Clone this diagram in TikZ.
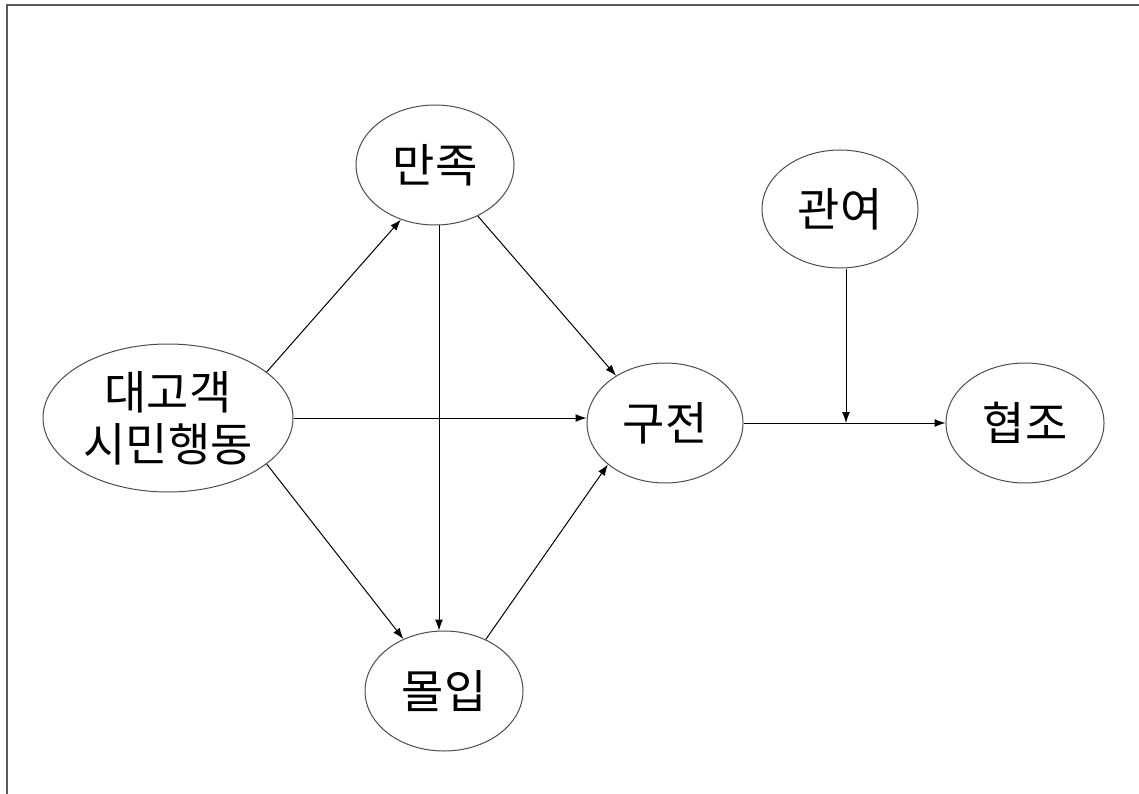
\documentclass[tikz,border=0pt]{standalone}
\usepackage{fontspec}
\newfontfamily\kr{Noto Sans CJK KR}
\usetikzlibrary{shapes.geometric,arrows.meta}
\begin{document}
\begin{tikzpicture}[x=1pt,y=-1pt,
  var/.style={ellipse,draw=black!70,line width=1pt,inner sep=0pt,
    font=\kr\fontsize{46}{52}\selectfont,align=center},
  arr/.style={-{Latex[length=11pt,width=8pt]},line width=1pt,black}]
\useasboundingbox (0,0) rectangle (1139,794);
\draw[line width=2pt,black!65] (7,794) -- (7,5) -- (1139,5);
\node[var,minimum width=250pt,minimum height=148pt] (d) at (168,418) {대고객\\시민행동};
\node[var,minimum width=158pt,minimum height=120pt] (m) at (435,165) {만족};
\node[var,minimum width=158pt,minimum height=120pt] (o) at (444,691) {몰입};
\node[var,minimum width=156pt,minimum height=120pt] (k) at (665,423) {구전};
\node[var,minimum width=156pt,minimum height=118pt] (g) at (840,209) {관여};
\node[var,minimum width=158pt,minimum height=120pt] (h) at (1025,423) {협조};
\coordinate (j) at (846,423);
\draw[arr] (d.25) -- (m.238);
\draw[arr] (d.east) -- (d.east -| k.west);
\draw[arr] (d.-25) -- (o.128);
\draw[arr] ([xshift=4pt]m.south) -- ([xshift=4pt]m.south |- o.north);
\draw[arr] (m.310) -- (k.136);
\draw[arr] (o.51) -- (k.216);
\draw[arr] (k.east) -- (k.east -| h.west);
\draw[arr] (j |- g.south) -- (j);
\end{tikzpicture}
\end{document}
